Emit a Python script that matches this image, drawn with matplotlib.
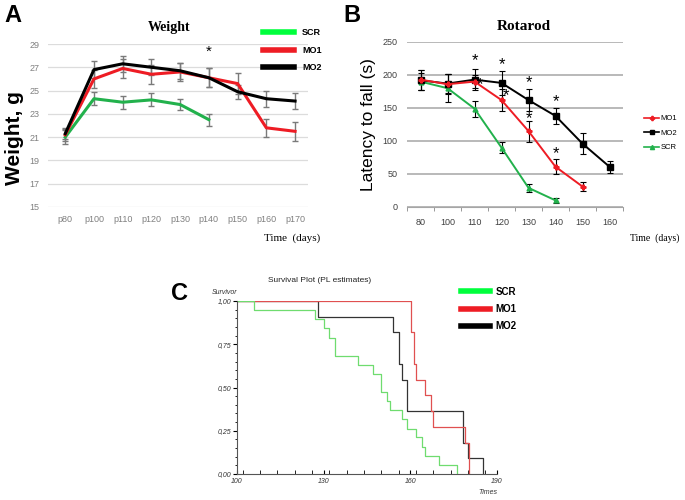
import matplotlib
matplotlib.use('Agg')
import matplotlib.pyplot as plt
from matplotlib.lines import Line2D
from matplotlib.ticker import MultipleLocator, FixedLocator

plt.rcParams['font.family'] = ['Liberation Sans', 'DejaVu Sans']

# ---- Panel A: weight ----
weight_days = ['p80', 'p100', 'p110', 'p120', 'p130', 'p140', 'p150', 'p160', 'p170']
w_scr = [21.0, 24.3, 24.0, 24.2, 23.8, 22.5]
w_scr_err = [0.6, 0.55, 0.55, 0.55, 0.5, 0.5]
w_mo1 = [21.2, 26.0, 26.9, 26.4, 26.6, 26.1, 25.6, 21.8, 21.5]
w_mo1_err = [0.5, 0.8, 0.8, 0.8, 0.8, 0.8, 0.9, 0.8, 0.8]
w_mo2 = [21.3, 26.8, 27.3, 27.0, 26.7, 26.1, 24.9, 24.3, 24.1]
w_mo2_err = [0.5, 0.7, 0.7, 0.7, 0.7, 0.8, 0.6, 0.7, 0.7]
w_yticks = [15, 17, 19, 21, 23, 25, 27, 29]

# ---- Panel B: rotarod ----
rot_days = ['80', '100', '110', '120', '130', '140', '150', '160']
r_mo1 = [193, 186, 190, 162, 115, 61, 31]
r_mo1_err = [15, 15, 10, 17, 16, 11, 7]
r_mo2 = [192, 187, 193, 188, 162, 138, 96, 61]
r_mo2_err = [15, 14, 16, 18, 17, 12, 16, 9]
r_scr = [190, 180, 149, 90, 29, 10]
r_scr_err = [13, 21, 12, 8, 6, 4]
# significance stars (category index, height)
r_stars = [(2, 222), (3, 216), (4, 189), (5, 160), (2.2, 185), (3.15, 169), (4, 134), (5, 81)]

# ---- Panel C: survival (step times, survival after step) ----
scr_t = [100, 106, 127, 130, 132, 134, 142, 147, 150, 152, 153, 157, 159, 162, 164, 165, 170, 176]
scr_s = [1.0, 0.947, 0.895, 0.842, 0.789, 0.684, 0.632, 0.579, 0.474, 0.421, 0.368,
         0.316, 0.263, 0.211, 0.158, 0.105, 0.053, 0.0]
mo1_t = [100, 160.2, 161.4, 162, 165, 167, 168, 179, 180.2]
mo1_s = [1.0, 0.818, 0.636, 0.545, 0.455, 0.364, 0.273, 0.182, 0.0]
mo2_t = [100, 128, 154, 156, 157, 158.8, 178.1, 179.8, 185.2]
mo2_s = [1.0, 0.909, 0.818, 0.636, 0.545, 0.364, 0.182, 0.091, 0.0]
surv_labels = ['0,00', '0,25', '0,50', '0,75', '1,00']

W, H = 685, 500
fig = plt.figure(figsize=(W / 100, H / 100), dpi=100)


def fx(px):
    return px / W


def fy(py):
    return 1 - py / H


# ================= A =================
axA = fig.add_axes([fx(48), fy(207), 260 / W, 163 / H])
xa = list(range(len(weight_days)))
grey = '#808080'
ekw = dict(fmt='none', ecolor='#7a7a7a', elinewidth=1, capsize=2.5, capthick=1)
axA.errorbar(xa[:len(w_scr)], w_scr, yerr=w_scr_err, **ekw)
axA.errorbar(xa, w_mo1, yerr=w_mo1_err, **ekw)
axA.errorbar(xa, w_mo2, yerr=w_mo2_err, **ekw)
axA.plot(xa[:len(w_scr)], w_scr, color='#22b14c', lw=2.2, zorder=3)
axA.plot(xa, w_mo1, color='#ee1c24', lw=2.2, zorder=3)
axA.plot(xa, w_mo2, color='black', lw=2.2, zorder=3)
axA.set_xlim(-0.6, 8.45)
axA.set_ylim(15, 29)
axA.set_yticks(w_yticks)
axA.set_xticks(xa)
axA.set_xticklabels(weight_days)
axA.tick_params(length=0, labelsize=6.5, labelcolor=grey, pad=6)
axA.grid(axis='y', color='#dcdcdc', lw=0.9)
axA.set_axisbelow(True)
for s in axA.spines.values():
    s.set_visible(False)
axA.text(5, 28.3, '*', ha='center', va='center', fontsize=11)
legA = [Line2D([], [], color='#00ff3c', lw=4),
        Line2D([], [], color='#ee1c24', lw=4),
        Line2D([], [], color='black', lw=4)]
fig.legend(legA, ['SCR', 'MO1', 'MO2'], loc='upper left',
           bbox_to_anchor=(fx(255), fy(20)), frameon=False,
           prop={'weight': 'bold', 'size': 6.5}, handlelength=3.4,
           handletextpad=0.9, labelspacing=0.95)
fig.text(fx(169), fy(27), 'Weight', family='Liberation Serif', weight='bold',
         fontsize=10, ha='center', va='center')
fig.text(fx(15), fy(138), 'Weight, g', weight='bold', fontsize=15,
         rotation=90, ha='center', va='center')
fig.text(fx(292), fy(238), 'Time  (days)', family='Liberation Serif',
         fontsize=8, ha='center', va='center')
fig.text(fx(13), fy(15), 'A', weight='bold', fontsize=17, ha='center', va='center')

# ================= B =================
axB = fig.add_axes([fx(407), fy(207), 216 / W, 165 / H])
xb = list(range(len(rot_days)))
bkw = dict(fmt='none', ecolor='black', elinewidth=0.8, capsize=2, capthick=0.8)
axB.errorbar(xb[:len(r_mo1)], r_mo1, yerr=r_mo1_err, **bkw)
axB.errorbar(xb, r_mo2, yerr=r_mo2_err, **bkw)
axB.errorbar(xb[:len(r_scr)], r_scr, yerr=r_scr_err, **bkw)
axB.plot(xb[:len(r_scr)], r_scr, color='#22b14c', lw=1.4, marker='^', ms=3.5, zorder=3)
axB.plot(xb, r_mo2, color='black', lw=1.4, marker='s', ms=4, zorder=3)
axB.plot(xb[:len(r_mo1)], r_mo1, color='#ee1c24', lw=1.4, marker='P', ms=3.5, zorder=3)
axB.set_xlim(-0.5, 7.5)
axB.set_ylim(0, 250)
axB.set_yticks([0, 50, 100, 150, 200, 250])
axB.set_xticks(xb)
axB.set_xticklabels(rot_days)
axB.xaxis.set_minor_locator(FixedLocator([i - 0.5 for i in range(len(rot_days) + 1)]))
axB.tick_params(axis='x', which='major', length=0, pad=8)
axB.tick_params(axis='x', which='minor', length=3, color='#888888')
axB.tick_params(axis='y', length=0, pad=7)
axB.tick_params(labelsize=6.5, labelcolor='#404040')
axB.grid(axis='y', color='#a6a6a6', lw=1.1)
axB.set_axisbelow(True)
for k in ['left', 'right', 'top']:
    axB.spines[k].set_visible(False)
axB.spines['bottom'].set_color('#a6a6a6')
for sx, sy in r_stars:
    axB.text(sx, sy, '*', ha='center', va='center', fontsize=12)
legB = [Line2D([], [], color='#ee1c24', lw=1.2, marker='P', ms=3),
        Line2D([], [], color='black', lw=1.2, marker='s', ms=3),
        Line2D([], [], color='#22b14c', lw=1.2, marker='^', ms=3)]
fig.legend(legB, ['MO1', 'MO2', 'SCR'], loc='upper left',
           bbox_to_anchor=(fx(637), fy(108)), frameon=False,
           prop={'size': 5.5}, handlelength=2.0, handletextpad=0.2,
           labelspacing=0.95)
fig.text(fx(524), fy(27), 'Rotarod', family='Liberation Serif', weight='bold',
         fontsize=11, ha='center', va='center')
fig.text(fx(369), fy(125), 'Latency to fall (s)', fontsize=12.5,
         rotation=90, ha='center', va='center')
fig.text(fx(655), fy(238), 'Time  (days)', family='Liberation Serif',
         fontsize=7, ha='center', va='center')
fig.text(fx(352), fy(15), 'B', weight='bold', fontsize=17, ha='center', va='center')

# ================= C =================
axC = fig.add_axes([fx(237), fy(474), 260 / W, 173 / H])
axC.step(mo2_t, mo2_s, where='post', color='#333333', lw=0.9)
axC.step(mo1_t, mo1_s, where='post', color='#e05050', lw=0.9)
axC.step(scr_t, scr_s, where='post', color='#6fdc6f', lw=0.9)
axC.set_xlim(100, 190)
axC.set_ylim(0, 1.0)
axC.set_xticks([100, 130, 160, 190])
axC.xaxis.set_minor_locator(MultipleLocator(6))
axC.set_yticks([0, 0.25, 0.5, 0.75, 1.0])
axC.set_yticklabels(surv_labels)
axC.yaxis.set_minor_locator(MultipleLocator(0.05))
axC.tick_params(axis='x', which='both', direction='in', length=3, labelsize=5, pad=3)
axC.tick_params(axis='y', which='major', length=3, labelsize=5, pad=1)
axC.tick_params(axis='y', which='minor', length=1.5)
for lab in axC.get_xticklabels() + axC.get_yticklabels():
    lab.set_fontstyle('italic')
    lab.set_color('#333333')
for k in ['right', 'top']:
    axC.spines[k].set_visible(False)
for k in ['left', 'bottom']:
    axC.spines[k].set_color('#555555')
    axC.spines[k].set_linewidth(0.8)
fig.text(fx(225), fy(292), 'Survivor', fontsize=5, style='italic',
         ha='center', va='center', color='#333333')
fig.text(fx(488), fy(493), 'Times', fontsize=5, style='italic',
         ha='center', va='center', color='#333333')
fig.text(fx(320), fy(281), 'Survival Plot (PL estimates)', fontsize=6,
         ha='center', va='center', color='#222222')
fig.text(fx(179), fy(293), 'C', weight='bold', fontsize=17, ha='center', va='center')
legC = [Line2D([], [], color='#00ff3c', lw=4),
        Line2D([], [], color='#ee1c24', lw=4),
        Line2D([], [], color='black', lw=4)]
fig.legend(legC, ['SCR', 'MO1', 'MO2'], loc='upper left',
           bbox_to_anchor=(fx(452), fy(278)), frameon=False,
           prop={'weight': 'bold', 'size': 7}, handlelength=3.0,
           handletextpad=0.6, labelspacing=0.75)

fig.savefig('out.png', dpi=100)
